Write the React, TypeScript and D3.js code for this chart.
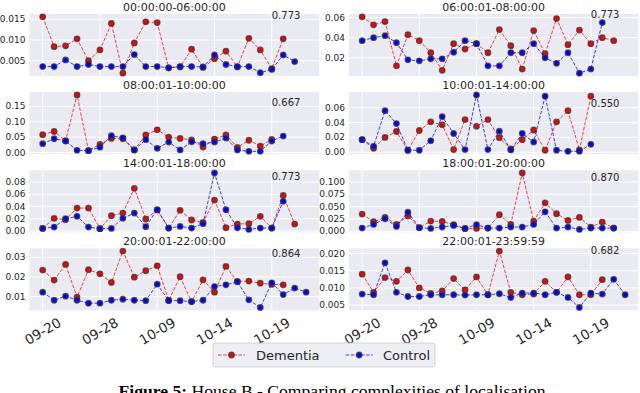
import React from "react";
import * as d3 from "d3";

const titles = [
  "00:00:00-06:00:00",
  "06:00:01-08:00:00",
  "08:00:01-10:00:00",
  "10:00:01-14:00:00",
  "14:00:01-18:00:00",
  "18:00:01-20:00:00",
  "20:00:01-22:00:00",
  "22:00:01-23:59:59",
];
const scores = ["0.773", "0.773", "0.667", "0.550", "0.773", "0.870", "0.864", "0.682"];
const scoreY = [0.016, 0.0633, 0.1616, 0.0653, 0.0882, 0.1087, 0.0319, 0.0209];

const xTickIdx = [0, 5, 10, 15, 20];
const xTickLabels = ["09-20", "09-28", "10-09", "10-14", "10-19"];

const yTicks = [
  [0.005, 0.01, 0.015],
  [0.02, 0.04, 0.06],
  [0, 0.05, 0.1, 0.15],
  [0, 0.02, 0.04, 0.06],
  [0, 0.02, 0.04, 0.06, 0.08],
  [0, 0.025, 0.05, 0.075, 0.1],
  [0.01, 0.02, 0.03],
  [0.005, 0.01, 0.015, 0.02],
];
const yDecimals = [3, 2, 2, 2, 2, 3, 2, 3];

// Dementia (red) series
const dementia0 = [0.0156, 0.0084, 0.0086, 0.0103, 0.005, 0.0076, 0.014, 0.002, 0.0093, 0.0144, 0.0142, 0.0033, 0.0035, 0.0078, 0.0034, 0.0055, 0.0073, 0.0035, 0.0104, 0.0076, 0.0031, 0.0103];
const dementia1 = [0.0607, 0.0527, 0.056, 0.012, 0.043, 0.037, 0.025, 0.0075, 0.034, 0.0287, 0.034, 0.025, 0.048, 0.032, 0.0088, 0.047, 0.024, 0.059, 0.033, 0.0475, 0.034, 0.04, 0.037];
const dementia2 = [0.058, 0.0685, 0.0385, 0.187, 0.0064, 0.027, 0.046, 0.045, 0.0086, 0.057, 0.074, 0.05, 0.046, 0.041, 0.018, 0.044, 0.057, 0.017, 0.04, 0.021, 0.043];
const dementia3 = [0.0169, 0.0053, 0.02, 0.028, 0.0027, 0.0293, 0.041, 0.037, 0.0036, 0.044, 0.035, 0.044, 0.0196, 0.0044, 0.0169, 0.03, 0.0027, 0.041, 0.056, 0.0031, 0.0756];
const dementia4 = [0.0043, 0.0207, 0.0185, 0.0375, 0.0375, 0.0038, 0.025, 0.0293, 0.0696, 0.0196, 0.0342, 0.0049, 0.0337, 0.018, 0.0141, 0.0505, 0.0054, 0.0114, 0.012, 0.024, 0.0049, 0.058, 0.0114];
const dementia5 = [0.0349, 0.0195, 0.0282, 0.0141, 0.0309, 0.0074, 0.0208, 0.0201, 0.0134, 0.0054, 0.006, 0.0067, 0.0336, 0.0141, 0.118, 0.0208, 0.0577, 0.0356, 0.0221, 0.0282, 0.0087, 0.0188, 0.0067];
const dementia6 = [0.0235, 0.0184, 0.0264, 0.0097, 0.0237, 0.0216, 0.0172, 0.0332, 0.0199, 0.0232, 0.0257, 0.0081, 0.0201, 0.0074, 0.0185, 0.0122, 0.0254, 0.0177, 0.0179, 0.0168, 0.0162, 0.016];
const dementia7 = [0.014, 0.0087, 0.013, 0.0119, 0.0152, 0.01, 0.0084, 0.0091, 0.0127, 0.0094, 0.0132, 0.008, 0.0207, 0.0087, 0.008, 0.0082, 0.0119, 0.0087, 0.0132, 0.008, 0.008, 0.0124];

// Control (blue) series
const control0 = [0.0036, 0.0036, 0.0052, 0.0036, 0.0041, 0.0036, 0.0036, 0.0036, 0.0065, 0.0036, 0.0036, 0.0033, 0.0036, 0.0036, 0.0035, 0.0064, 0.0041, 0.0036, 0.0036, 0.0021, 0.0029, 0.0064, 0.0048];
const control1 = [0.037, 0.04, 0.042, 0.035, 0.018, 0.017, 0.019, 0.019, 0.0255, 0.037, 0.034, 0.012, 0.012, 0.025, 0.025, 0.034, 0.02, 0.0145, 0.025, 0.0047, 0.0088, 0.055];
const control2 = [0.029, 0.045, 0.0375, 0.0075, 0.0064, 0.017, 0.055, 0.048, 0.0086, 0.042, 0.014, 0.034, 0.0086, 0.035, 0.029, 0.034, 0.047, 0.0086, 0.0043, 0.0043, 0.0375, 0.0535];
const control3 = [0.0169, 0.008, 0.056, 0.0387, 0.0027, 0.0027, 0.0156, 0.048, 0.0253, 0.0036, 0.0773, 0.0036, 0.0284, 0.0031, 0.0253, 0.0138, 0.0756, 0.0027, 0.0013, 0.0013, 0.0107];
const control4 = [0.0043, 0.0065, 0.02, 0.024, 0.0065, 0.0038, 0.0043, 0.0207, 0.0293, 0.0071, 0.0348, 0.0049, 0.0076, 0.0049, 0.012, 0.0946, 0.0348, 0.0054, 0.0027, 0.0049, 0.0049, 0.0484];
const control5 = [0.0067, 0.0141, 0.0255, 0.01, 0.0389, 0.0074, 0.006, 0.0087, 0.0121, 0.006, 0.0134, 0.0067, 0.0067, 0.0087, 0.0087, 0.0141, 0.0396, 0.0067, 0.0087, 0.004, 0.0067, 0.0067, 0.0067];
const control6 = [0.0122, 0.0081, 0.0102, 0.0081, 0.0066, 0.0066, 0.0081, 0.0086, 0.0081, 0.0079, 0.0163, 0.0079, 0.0079, 0.0074, 0.0081, 0.0151, 0.016, 0.0175, 0.0083, 0.0044, 0.017, 0.011, 0.0143, 0.0122];
const control7 = [0.0082, 0.008, 0.0173, 0.0087, 0.0075, 0.0075, 0.008, 0.008, 0.008, 0.0079, 0.008, 0.008, 0.0083, 0.0072, 0.0085, 0.0085, 0.008, 0.0087, 0.0072, 0.0043, 0.0085, 0.0082, 0.0125, 0.008];

const dementiaSeries = [dementia0, dementia1, dementia2, dementia3, dementia4, dementia5, dementia6, dementia7];
const controlSeries = [control0, control1, control2, control3, control4, control5, control6, control7];

const W = 640;
const H = 393;
const colX = [[29.5, 319.3], [349, 638.3]];
const rowTop0 = 14;
const rowStep = 78.1;
const plotH = 62;
const textColor = "#262626";
const bg = "#EAEAF2";
const RED = "#ff0000";
const BLUE = "#0000ff";
const font = "DejaVu Sans, sans-serif";

const xScaleFor = (c: number) =>
  d3.scaleLinear().domain([-1.15, 24.15]).range(colX[c]);

function Series({ vals, x, y, color }: { vals: number[]; x: any; y: any; color: string }) {
  const line = d3
    .line<number>()
    .x((_, i) => x(i))
    .y((d) => y(d));
  return (
    <g>
      <path d={line(vals) || ""} fill="none" stroke={color} strokeOpacity={0.75} strokeWidth={1} strokeDasharray="3.5,1.6" />
      {vals.map((v, i) => (
        <circle key={i} cx={x(i)} cy={y(v)} r={2.7} fill={color} stroke="#333" strokeOpacity={0.75} strokeWidth={1.4} />
      ))}
    </g>
  );
}

function Panel({ idx }: { idx: number }) {
  const row = Math.floor(idx / 2);
  const col = idx % 2;
  const top = rowTop0 + rowStep * row;
  const bottom = top + plotH;
  const [x0, x1] = colX[col];
  const x = xScaleFor(col);
  const all = [...dementiaSeries[idx], ...controlSeries[idx]];
  const mn = d3.min(all) as number;
  const mx = d3.max(all) as number;
  const pad = (mx - mn) * 0.05;
  const y = d3.scaleLinear().domain([mn - pad, mx + pad]).range([bottom, top]);
  const fmt = d3.format(`.${yDecimals[idx]}f`);
  return (
    <g>
      <rect x={x0} y={top} width={x1 - x0} height={plotH} fill={bg} />
      {yTicks[idx].map((t) => (
        <line key={"gy" + t} x1={x0} x2={x1} y1={y(t)} y2={y(t)} stroke="#fff" strokeWidth={1} />
      ))}
      {xTickIdx.map((t) => (
        <line key={"gx" + t} x1={x(t)} x2={x(t)} y1={top} y2={bottom} stroke="#fff" strokeWidth={1} />
      ))}
      {yTicks[idx].map((t) => (
        <text key={"ty" + t} x={x0 - 4} y={y(t)} textAnchor="end" dominantBaseline="central" fontSize={9} fill={textColor} fontFamily={font}>
          {fmt(t)}
        </text>
      ))}
      <text x={(x0 + x1) / 2} y={top - 3.3} textAnchor="middle" fontSize={11} fill={textColor} fontFamily={font}>
        {titles[idx]}
      </text>
      <Series vals={dementiaSeries[idx]} x={x} y={y} color={RED} />
      <Series vals={controlSeries[idx]} x={x} y={y} color={BLUE} />
      <text x={x(20)} y={y(scoreY[idx])} dominantBaseline="central" fontSize={10} fill={textColor} fontFamily={font}>
        {scores[idx]}
      </text>
      {row === 3 &&
        xTickIdx.map((t, k) => (
          <text
            key={"tx" + t}
            x={x(t)}
            y={331}
            textAnchor="middle"
            dominantBaseline="central"
            fontSize={13.5}
            fill={textColor}
            fontFamily={font}
            transform={`rotate(-30, ${x(t)}, 331)`}
          >
            {xTickLabels[k]}
          </text>
        ))}
    </g>
  );
}

function Legend() {
  const lx = 213;
  const ly = 343;
  const items = [
    { label: "Dementia", color: RED, x0: 218, tx: 256 },
    { label: "Control", color: BLUE, x0: 345.7, tx: 383 },
  ];
  const cy = 355;
  return (
    <g>
      <rect x={lx} y={ly} width={222} height={24} rx={3} fill={bg} fillOpacity={0.8} stroke="#cccccc" strokeOpacity={0.8} />
      {items.map((it) => (
        <g key={it.label}>
          <line x1={it.x0} x2={it.x0 + 27} y1={cy} y2={cy} stroke={it.color} strokeOpacity={0.75} strokeDasharray="3.5,1.6" />
          <circle cx={it.x0 + 13.5} cy={cy} r={2.7} fill={it.color} stroke="#333" strokeOpacity={0.75} strokeWidth={1.4} />
          <text x={it.tx} y={cy} dominantBaseline="central" fontSize={13} fill={textColor} fontFamily={font}>
            {it.label}
          </text>
        </g>
      ))}
    </g>
  );
}

export default function App() {
  return (
    <svg width={W} height={H} style={{ position: "absolute", left: 0, top: 0, background: "#fff" }}>
      {titles.map((_, i) => (
        <Panel key={i} idx={i} />
      ))}
      <Legend />
      <text x={332} y={397} textAnchor="middle" fontSize={16} fill="#000" fontFamily="Liberation Serif, serif" textLength={427} lengthAdjust="spacingAndGlyphs">
        <tspan fontWeight="bold">Figure 5:</tspan> House B - Comparing complexities of localisation
      </text>
    </svg>
  );
}
